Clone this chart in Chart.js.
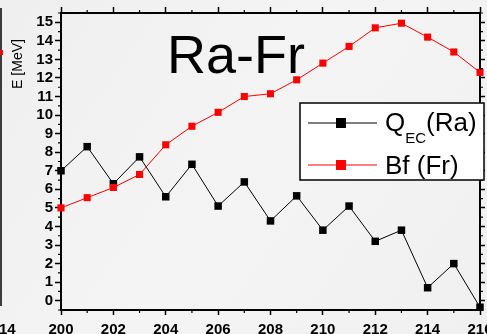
<!DOCTYPE html>
<html>
<head>
<meta charset="utf-8">
<script src="https://cdn.jsdelivr.net/npm/chart.js@4.4.0/dist/chart.umd.min.js"></script>
<style>
    html, body { margin: 0; padding: 0; background: #f2f2f2; }
    #wrap { width: 487px; height: 334px; }
</style>
</head>
<body>
<div id="wrap"><canvas id="chart" width="487" height="334"></canvas></div>
<script>
// mass number A
const isotopes = [200, 201, 202, 203, 204, 205, 206, 207, 208, 209, 210, 211, 212, 213, 214, 215, 216];
// Q_EC (Ra), MeV
const qecRa = [7.0, 8.3, 6.3, 7.75, 5.6, 7.35, 5.1, 6.4, 4.3, 5.65, 3.8, 5.1, 3.2, 3.8, 0.7, 2.0, -0.35];
// Bf (Fr), MeV
const bfFr = [5.0, 5.55, 6.1, 6.8, 8.4, 9.4, 10.15, 11.0, 11.15, 11.9, 12.8, 13.7, 14.7, 14.95, 14.2, 13.4, 12.3];

const xTickValues = [200, 202, 204, 206, 208, 210, 212, 214, 216];
const yTickValues = [0, 1, 2, 3, 4, 5, 6, 7, 8, 9, 10, 11, 12, 13, 14, 15];

const FONT = '"Liberation Sans", Arial, sans-serif';

function toPoints(ys) {
    return isotopes.map((x, i) => ({ x: x, y: ys[i] }));
}

// light grey paper behind everything
const paperPlugin = {
    id: 'paper',
    beforeDraw(chart) {
        const ctx = chart.ctx;
        const g = ctx.createLinearGradient(0, 0, chart.width, chart.height);
        g.addColorStop(0, '#efefef');
        g.addColorStop(0.5, '#f4f4f4');
        g.addColorStop(1, '#f0f0f0');
        ctx.save();
        ctx.fillStyle = g;
        ctx.fillRect(0, 0, chart.width, chart.height);
        ctx.restore();
    },
};

// short minor ticks between the major ones
const minorTicksPlugin = {
    id: 'minorTicks',
    afterDraw(chart) {
        const ctx = chart.ctx;
        const a = chart.chartArea;
        const len = 3;
        ctx.save();
        ctx.strokeStyle = '#000';
        ctx.lineWidth = 1.2;
        ctx.beginPath();
        const sx = chart.scales.x;
        for (let v = 201; v < 216; v += 2) {
            const px = sx.getPixelForValue(v);
            ctx.moveTo(px, a.bottom);
            ctx.lineTo(px, a.bottom + len);
            ctx.moveTo(px, a.top);
            ctx.lineTo(px, a.top - len);
        }
        const sy = chart.scales.y;
        for (let v = -0.5; v <= 15.5; v += 1) {
            const py = sy.getPixelForValue(v);
            ctx.moveTo(a.left, py);
            ctx.lineTo(a.left - len, py);
            ctx.moveTo(a.right, py);
            ctx.lineTo(a.right + len, py);
        }
        ctx.stroke();
        ctx.restore();
    },
};

// title inside the plot, axis name, legend box, bits of the neighbour panel
const decorPlugin = {
    id: 'decor',
    afterDraw(chart) {
        const ctx = chart.ctx;
        ctx.save();

        // neighbour panel fragment on the far left
        ctx.strokeStyle = '#000';
        ctx.lineWidth = 1.5;
        ctx.beginPath();
        ctx.moveTo(1, 8);
        ctx.lineTo(1, 306);
        ctx.stroke();
        ctx.fillStyle = '#ff0000';
        ctx.fillRect(0, 50, 3, 5);
        ctx.fillStyle = '#000';
        ctx.font = 'bold 15px ' + FONT;
        ctx.textBaseline = 'alphabetic';
        ctx.textAlign = 'left';
        ctx.fillText('14', -1, 334);

        // axis name
        ctx.save();
        ctx.translate(22, 64);
        ctx.rotate(-Math.PI / 2);
        ctx.font = '14px ' + FONT;
        ctx.textAlign = 'center';
        ctx.textBaseline = 'alphabetic';
        ctx.fillText('E [MeV]', 0, 0);
        ctx.restore();

        // big label
        ctx.font = '54px ' + FONT;
        ctx.textAlign = 'left';
        ctx.fillText('Ra-Fr', 167, 73);

        // legend
        const bx = 300, by = 103, bw = 184, bh = 77;
        ctx.fillStyle = '#ffffff';
        ctx.fillRect(bx, by, bw, bh);
        ctx.strokeStyle = '#000';
        ctx.lineWidth = 1.5;
        ctx.strokeRect(bx, by, bw, bh);

        const rows = [
            { color: '#000000', y: 123 },
            { color: '#ff0000', y: 165 },
        ];
        rows.forEach(r => {
            ctx.strokeStyle = r.color;
            ctx.lineWidth = 1;
            ctx.beginPath();
            ctx.moveTo(308, r.y);
            ctx.lineTo(377, r.y);
            ctx.stroke();
            ctx.fillStyle = r.color;
            ctx.fillRect(336, r.y - 5, 10, 10);
        });

        ctx.fillStyle = '#000';
        ctx.font = '26px ' + FONT;
        ctx.fillText('Q', 385, 131);
        const w = ctx.measureText('Q').width;
        ctx.font = '15px ' + FONT;
        ctx.fillText('EC', 385 + w, 143);
        const w2 = ctx.measureText('EC').width;
        ctx.font = '26px ' + FONT;
        ctx.fillText('(Ra)', 385 + w + w2, 131);
        ctx.fillText('Bf (Fr)', 385, 174);

        ctx.restore();
    },
};

const tickFont = { family: FONT, size: 15, weight: 'bold' };

new Chart(document.getElementById('chart').getContext('2d'), {
    type: 'line',
    data: {
        datasets: [
            {
                label: 'Bf (Fr)',
                data: toPoints(bfFr),
                borderColor: '#ff0000',
                backgroundColor: '#ff0000',
                borderWidth: 1,
                pointStyle: 'rect',
                pointRadius: 5,
                pointBorderWidth: 0,
                tension: 0,
                clip: false,
                order: 0,
            },
            {
                label: 'Q_EC (Ra)',
                data: toPoints(qecRa),
                borderColor: '#000000',
                backgroundColor: '#000000',
                borderWidth: 1,
                pointStyle: 'rect',
                pointRadius: 5.3,
                pointBorderWidth: 0,
                tension: 0,
                clip: false,
                order: 1,
            },
        ],
    },
    options: {
        responsive: false,
        animation: false,
        devicePixelRatio: 1,
        layout: { padding: 0 },
        plugins: {
            legend: { display: false },
            tooltip: { enabled: false },
        },
        scales: {
            x: {
                type: 'linear',
                position: 'bottom',
                min: 200,
                max: 216,
                afterBuildTicks: s => { s.ticks = xTickValues.map(v => ({ value: v })); },
                afterFit: s => { s.height = 24; s.paddingLeft = 0; s.paddingRight = 0; },
                ticks: { font: tickFont, color: '#000', padding: 6, autoSkip: false, maxRotation: 0 },
                grid: { drawOnChartArea: false, tickLength: 5, tickColor: '#000', tickWidth: 1.5 },
                border: { display: true, color: '#000', width: 2 },
            },
            xTop: {
                type: 'linear',
                position: 'top',
                min: 200,
                max: 216,
                afterBuildTicks: s => { s.ticks = xTickValues.map(v => ({ value: v })); },
                afterFit: s => { s.height = 13; s.paddingLeft = 0; s.paddingRight = 0; },
                ticks: { display: false },
                grid: { drawOnChartArea: false, tickLength: 6, tickColor: '#000', tickWidth: 1.5 },
                border: { display: true, color: '#000', width: 2 },
            },
            y: {
                type: 'linear',
                position: 'left',
                min: -0.5,
                max: 15.5,
                afterBuildTicks: s => { s.ticks = yTickValues.map(v => ({ value: v })); },
                afterFit: s => { s.width = 61; s.paddingTop = 0; s.paddingBottom = 0; },
                ticks: { font: tickFont, color: '#000', padding: 2, autoSkip: false },
                grid: { drawOnChartArea: false, tickLength: 6, tickColor: '#000', tickWidth: 1.5 },
                border: { display: true, color: '#000', width: 2 },
            },
            yRight: {
                type: 'linear',
                position: 'right',
                min: -0.5,
                max: 15.5,
                afterBuildTicks: s => { s.ticks = yTickValues.map(v => ({ value: v })); },
                afterFit: s => { s.width = 7; s.paddingTop = 0; s.paddingBottom = 0; },
                ticks: { display: false },
                grid: { drawOnChartArea: false, tickLength: 5, tickColor: '#000', tickWidth: 1.5 },
                border: { display: true, color: '#000', width: 2 },
            },
        },
    },
    plugins: [paperPlugin, minorTicksPlugin, decorPlugin],
});
</script>
</body>
</html>
